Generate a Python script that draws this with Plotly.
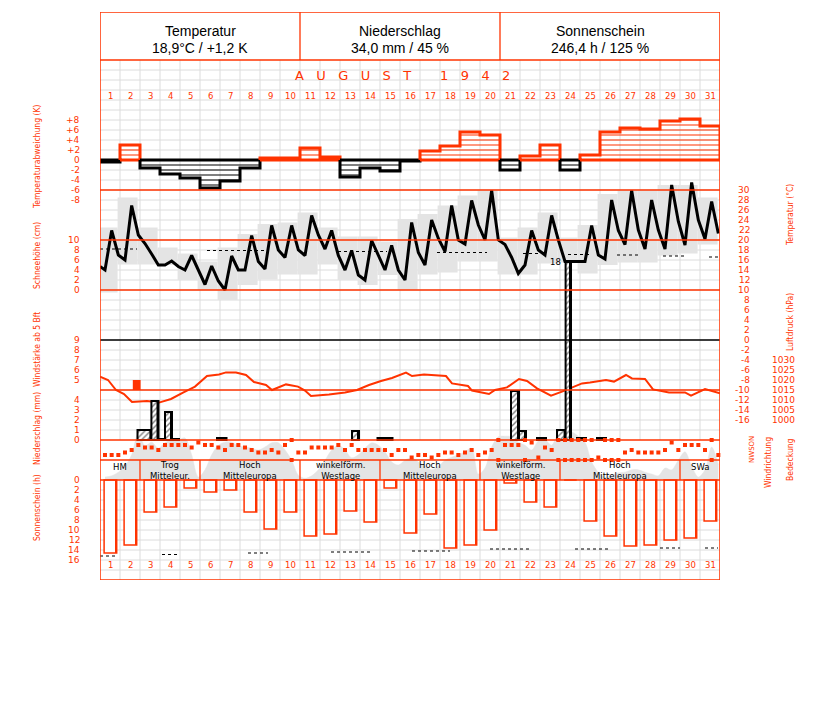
import plotly.graph_objects as go

# ======================= DATA =======================
days = list(range(1, 32))

header_titles = ["Temperatur", "Niederschlag", "Sonnenschein"]
header_values = ["18,9°C / +1,2 K", "34,0 mm / 45 %", "246,4 h / 125 %"]
month_title = "AUGUST 1942"

# daily temperature deviation (K)
temp_dev = [-0.4, 3.0, -1.6, -2.8, -3.6, -5.6, -4.2, -1.6, 0.4, 0.4,
            2.4, 0.6, -3.4, -1.6, -2.2, -0.2, 1.8, 2.8, 5.6, 5.0,
            -2.0, 0.8, 3.0, -2.0, 1.0, 5.6, 6.4, 6.2, 7.8, 8.2, 6.8]

# temperature at three observation terms (°C)
temp_start = 14.7
temp_morning = [14.0, 16.0, 19.3, 15.0, 14.0, 11.1, 10.0, 14.0, 14.2, 16.5, 16.9, 18.2, 14.0, 12.0, 14.0, 12.0,
                15.0, 17.7, 19.2, 20.0, 19.1, 15.0, 17.0, 15.7, 15.7, 16.2, 19.1, 18.2, 18.2, 19.0, 20.2]
temp_noon = [21.9, 26.9, 17.2, 15.8, 16.9, 14.8, 16.8, 20.9, 22.9, 22.9, 24.9, 21.9, 17.9, 19.9, 18.9, 23.5,
             24.0, 26.9, 27.9, 29.9, 16.5, 21.9, 24.9, 15.7, 22.9, 28.0, 29.9, 28.0, 31.0, 31.5, 27.7]
temp_evening = [17.0, 21.0, 15.0, 14.7, 14.0, 11.8, 14.0, 15.7, 18.0, 18.0, 21.0, 16.9, 13.0, 16.9, 14.0, 17.5,
                20.3, 20.0, 23.0, 20.0, 13.3, 18.0, 20.0, 15.7, 17.0, 21.9, 22.0, 22.0, 23.7, 24.0, 21.3]
# daily maximum / minimum (grey boxes)
temp_max = [22.5, 28.5, 22.5, 18.5, 17.3, 15.7, 18.5, 21.2, 23.2, 23.5, 25.5, 22.5, 20.7, 20.7, 19.7, 24.2,
            25.2, 26.9, 28.9, 29.9, 20.5, 22.5, 25.5, 20.5, 23.0, 29.2, 29.9, 29.9, 31.0, 31.0, 28.5]
temp_min = [9.5, 15.1, 15.1, 15.0, 12.0, 10.0, 8.0, 11.0, 12.1, 13.1, 13.1, 15.1, 12.0, 11.0, 13.0, 10.0,
            13.1, 13.5, 15.7, 15.7, 13.1, 13.1, 15.3, 15.5, 13.3, 15.0, 15.5, 15.5, 16.9, 17.3, 19.1]
# normal mean temperature (dotted segments): start day, end day, °C
temp_normal_start = [0.5, 5.85, 12.4, 17.35, 21.65, 23.9, 26.35, 28.65, 30.95]
temp_normal_end = [2.35, 8.85, 14.85, 19.85, 22.85, 25.1, 27.4, 29.8, 31.5]
temp_normal_value = [18.2, 17.9, 17.7, 17.5, 17.3, 17.1, 17.0, 16.8, 16.6]

# wind force >= 5 Bft
wind_start = [2.14]
wind_end = [2.53]
wind_bft = [5]

# air pressure (hPa) by time (days)
pressure_time = [0.5, 0.9, 1.3, 1.7, 2.1, 2.85, 3.45, 4.05, 4.65, 5.25, 5.85, 6.45, 6.8, 7.3, 7.8, 8.2, 8.8,
                 9.1, 9.8, 10.4, 10.75, 11.05, 11.95, 12.75, 13.35, 13.95, 14.55, 15.1, 15.8, 16.1, 16.7,
                 17.8, 18.1, 18.9, 19.1, 19.95, 20.25, 20.85, 21.45, 21.85, 22.35, 23.05, 23.6, 24.0, 24.6,
                 25.0, 25.8, 26.2, 26.8, 27.1, 27.75, 28.15, 28.95, 29.75, 30.05, 30.75, 31.5]
pressure_hpa = [1021.7, 1020, 1015, 1013, 1009, 1009.5, 1008.7, 1010.5, 1013.7, 1016.7, 1022, 1022.8, 1023.8,
                1023.7, 1022.5, 1019, 1017.5, 1015, 1017.8, 1016.7, 1014.7, 1012, 1012.8, 1013.8, 1015,
                1017.5, 1019.5, 1021, 1023.7, 1022, 1022.7, 1022, 1018.3, 1017, 1014.7, 1013, 1015, 1016.3,
                1020.5, 1019.5, 1015.8, 1012.2, 1014.2, 1015.8, 1018.3, 1018.7, 1020, 1019.2, 1022.5,
                1020.8, 1020.5, 1015.3, 1013.7, 1013.8, 1012.2, 1015.5, 1013.3]

# precipitation periods (days) and amounts (mm)
precip_start = [2.375, 3.07, 3.425, 3.75, 4.1, 6.35, 13.1, 14.375, 21.05, 21.45, 22.35, 23.35, 23.78, 24.35, 25.35]
precip_end = [3.07, 3.425, 3.75, 4.1, 4.45, 6.825, 13.45, 15.125, 21.45, 21.8, 22.8, 23.78, 24.05, 24.8, 25.8]
precip_mm = [1.0, 3.9, 0.1, 2.8, 0.1, 0.2, 0.9, 0.2, 4.9, 0.9, 0.2, 1.0, 17.8, 0.2, 0.2]

# wind direction at three terms (German compass points)
wind_dir = ["W", "W", "W", "SW", "S", "O", "SO", "SO", "S", "O", "O", "O", "O", "SO", "NO", "O",
            "O", "SO", "S", "O", "O", "SO", "S", "SW", "SW", "S", "SW", "O", "N", "SW", "SW", "SO",
            "SO", "SO", "SO", "O", "S", "O", "S", "S", "S", "S", "S", "W", "S", "S", "NW", "W",
            "W", "NW", "W", "SW", "SW", "W", "SW", "S", "W", "SW", "S", "N", "O", "O", "O", "N",
            "NO", "NW", "SO", "S", "N", "N", "N", "N", "N", "N", "NW", "N", "N", "N", "SW", "S",
            "SW", "SW", "SW", "SW", "S", "NO", "S", "O", "O", "O", "S", "N", "W"]

# cloud cover (eighths) at three terms
cloud_cover = [0.5, 0.7, 1.3, 2.3, 4.2, 7.8, 5.7, 6.3, 5.3, 6.2, 6.7, 6.7, 7.0, 4.2, 0.5, 1.7, 4.2, 5.8,
               6.3, 6.3, 5.7, 5.5, 5.3, 5.0, 5.5, 6.2, 6.2, 5.0, 3.3, 0.8, 0.3, 0.7, 1.7, 3.3, 5.0, 5.8,
               5.0, 3.7, 4.2, 5.3, 6.2, 5.8, 4.7, 3.0, 2.5, 3.3, 3.7, 3.0, 2.3, 1.7, 2.3, 3.3, 3.8, 4.2,
               4.7, 5.3, 1.0, 2.0, 5.5, 7.2, 7.3, 7.2, 6.3, 5.8, 5.0, 6.5, 6.7, 5.8, 7.7, 8.0, 8.0, 7.3,
               6.3, 3.0, 1.3, 0.5, 0.8, 1.2, 1.3, 1.7, 1.7, 1.3, 1.0, 0.7, 2.0, 1.7, 3.3, 4.7, 2.3, 0.5,
               1.7, 5.5, 2.5]

# large-scale weather types
weather_names = ["HM", "Trog<br>Mitteleur.", "Hoch<br>Mitteleuropa", "winkelförm.<br>Westlage",
                 "Hoch<br>Mitteleuropa", "winkelförm.<br>Westlage", "Hoch<br>Mitteleuropa", "SWa"]
weather_first_day = [1, 3, 6, 11, 15, 20, 24, 30]
weather_last_day = [2, 5, 10, 14, 19, 23, 29, 31]

# sunshine duration (h)
sunshine_h = [14.6, 13.0, 6.4, 5.4, 1.6, 2.4, 2.0, 6.4, 9.8, 6.4, 11.2, 10.8, 6.2, 8.4, 1.6, 10.6,
              6.8, 13.6, 13.0, 10.0, 0.6, 4.4, 5.4, 0.0, 8.2, 11.2, 13.2, 13.0, 12.0, 11.6, 8.2]
# possible sunshine (dotted segments)
sun_possible_start = [0.5, 3.6, 7.9, 12.05, 16.1, 20.0, 24.25, 28.5, 30.75]
sun_possible_end = [1.4, 4.5, 8.9, 14.0, 18.0, 22.0, 26.0, 29.5, 31.4]
sun_possible_h = [15.2, 14.9, 14.6, 14.4, 14.2, 13.8, 13.8, 13.6, 13.6]

# tick labels
dev_ticks = [8, 6, 4, 2, 0, -2, -4, -6, -8]
snow_ticks = [10, 8, 6, 4, 2, 0]
wind_ticks = [9, 8, 7, 6, 5]
precip_ticks = [4, 3, 2, 1, 0]
sun_ticks = [0, 2, 4, 6, 8, 10, 12, 14, 16]
temp_ticks = list(range(30, -17, -2))
pressure_ticks = [1030, 1025, 1020, 1015, 1010, 1005, 1000]

# ======================= GEOMETRY / STYLE =======================
RED = "#ff3300"
GRID = "#dcdcdc"
GREY = "#e4e4e4"
FIG_W, FIG_H = 827, 702
PL, PR, PT, PB = 100, 720, 12, 580
FONT = "DejaVu Sans, Verdana, sans-serif"
NARROW = "Liberation Sans Narrow, DejaVu Sans Condensed, Arial Narrow, sans-serif"
TICK = 9
PRECIP_TOP = 5  # mm at the top edge of the precipitation band


def axis_range(v0, y0, ppu, down=False):
    if down:
        return [v0 + (PB - y0) / ppu, v0 - (y0 - PT) / ppu]
    return [v0 - (PB - y0) / ppu, v0 + (y0 - PT) / ppu]


def paper_x(px):
    return (px - PL) / (PR - PL)


def day_x(px):
    return (px - PL) / 20 + 0.5


compass = {"N": 0, "NO": 45, "O": 90, "SO": 135, "S": 180, "SW": 225, "W": 270, "NW": 315}
obs_offsets = [-0.25, 0.083, 0.417]
obs_x = [d + o for d in days for o in obs_offsets]

fig = go.Figure()

# ---- cloud cover (y2)
fig.add_trace(go.Scatter(x=obs_x, y=cloud_cover, yaxis="y2", mode="lines",
                         line=dict(color=GREY, width=0.5, shape="spline", smoothing=0.9),
                         fill="tozeroy", fillcolor=GREY, hoverinfo="skip"))

# ---- temperature (y3)
fig.add_trace(go.Bar(x=[d - 0.12 for d in days], y=[a - b for a, b in zip(temp_max, temp_min)],
                     base=temp_min, width=1.0, yaxis="y3",
                     marker=dict(color=GREY, line=dict(width=0)), hoverinfo="skip"))
nx, ny = [], []
for s, e, v in zip(temp_normal_start, temp_normal_end, temp_normal_value):
    nx += [s, e, None]
    ny += [v, v, None]
fig.add_trace(go.Scatter(x=nx, y=ny, yaxis="y3", mode="lines",
                         line=dict(color="black", width=1.2, dash="dot"), hoverinfo="skip"))
temps = []
for a, b, c in zip(temp_morning, temp_noon, temp_evening):
    temps += [a, b, c]
fig.add_trace(go.Scatter(x=[0.5] + obs_x, y=[temp_start] + temps, yaxis="y3", mode="lines",
                         line=dict(color="black", width=3), hoverinfo="skip"))

# ---- temperature deviation (y4)
for sign, col in ((1, RED), (-1, "black")):
    hx, hy = [], []
    for d, v in zip(days, temp_dev):
        if v * sign > 0:
            L = 1
            while L < abs(v) - 0.15:
                hx += [d - 0.5, d + 0.5, None]
                hy += [sign * L, sign * L, None]
                L += 1
    fig.add_trace(go.Scatter(x=hx, y=hy, yaxis="y4", mode="lines",
                             line=dict(color=col, width=1), hoverinfo="skip"))
runs = []
for d, v in zip(days, temp_dev):
    s = 1 if v > 0 else -1
    if runs and runs[-1][0] == s:
        runs[-1][1].append((d, v))
    else:
        runs.append((s, [(d, v)]))
for s, items in runs:
    ox = [items[0][0] - 0.5]
    oy = [0]
    for d, v in items:
        ox += [d - 0.5, d + 0.5]
        oy += [v, v]
    ox += [items[-1][0] + 0.5, items[0][0] - 0.5]
    oy += [0, 0]
    fig.add_trace(go.Scatter(x=ox, y=oy, yaxis="y4", mode="lines",
                             line=dict(color=RED if s > 0 else "black", width=3), hoverinfo="skip"))

# ---- wind force (y5)
fig.add_trace(go.Bar(x=[(a + b) / 2 for a, b in zip(wind_start, wind_end)],
                     width=[b - a for a, b in zip(wind_start, wind_end)],
                     y=[w - 4 for w in wind_bft], base=[4] * len(wind_bft), yaxis="y5",
                     marker=dict(color=RED, line=dict(width=0)), hoverinfo="skip"))

# ---- pressure (y6)
fig.add_trace(go.Scatter(x=pressure_time, y=pressure_hpa, yaxis="y6", mode="lines",
                         line=dict(color=RED, width=2), hoverinfo="skip"))

# ---- precipitation (y7)
fig.add_trace(go.Bar(x=[(a + b) / 2 for a, b in zip(precip_start, precip_end)],
                     width=[b - a for a, b in zip(precip_start, precip_end)],
                     y=precip_mm, yaxis="y7",
                     marker=dict(color="white",
                                 pattern=dict(shape="/", fgcolor="black", bgcolor="white", size=4, solidity=0.35),
                                 line=dict(color="black", width=2)), hoverinfo="skip"))
fig.add_trace(go.Bar(x=[b - 0.05 for b in precip_end], width=[0.1] * len(precip_end),
                     y=precip_mm, yaxis="y7",
                     marker=dict(color="black", line=dict(width=0)), hoverinfo="skip"))

# ---- wind direction (y8)
wd = [compass[c] for c in wind_dir]
wx = obs_x + [x for x, c in zip(obs_x, wind_dir) if c == "N"]
wy = wd + [360 for c in wind_dir if c == "N"]
fig.add_trace(go.Scatter(x=wx, y=wy, yaxis="y8", mode="markers", cliponaxis=False,
                         marker=dict(symbol="square", size=4, color=RED, line=dict(width=0)),
                         hoverinfo="skip"))

# ---- sunshine (y9)
fig.add_trace(go.Bar(x=[d + 0.02 for d in days], y=sunshine_h, width=0.63, yaxis="y9",
                     marker=dict(color="white", line=dict(color=RED, width=1.5)), hoverinfo="skip"))
fig.add_trace(go.Bar(x=[d + 0.3 for d in days], y=sunshine_h, width=0.1, yaxis="y9",
                     marker=dict(color=RED, line=dict(width=0)), hoverinfo="skip"))
sx, sy = [], []
for s, e, v in zip(sun_possible_start, sun_possible_end, sun_possible_h):
    sx += [s, e, None]
    sy += [v, v, None]
fig.add_trace(go.Scatter(x=sx, y=sy, yaxis="y9", mode="lines",
                         line=dict(color="black", width=1.2, dash="dot"), hoverinfo="skip"))

# ======================= LAYOUT =======================
hidden = dict(visible=False, fixedrange=True, showgrid=False, zeroline=False)
axes = {
    "yaxis2": axis_range(0, 480, 6),            # cloud cover eighths
    "yaxis3": axis_range(0, 340, 5),            # temperature
    "yaxis4": axis_range(0, 160, 5),            # deviation
    "yaxis5": axis_range(5, 380, 10),           # wind force
    "yaxis6": axis_range(1015, 390, 2),         # pressure
    "yaxis7": axis_range(0, 440, 10),           # precipitation
    "yaxis8": axis_range(0, 440, 20 / 360, True),  # wind direction
    "yaxis9": axis_range(0, 480, 5, True),      # sunshine
}
layout_axes = {name: dict(hidden, overlaying="y", anchor="x", range=r) for name, r in axes.items()}

shapes = []
for d in range(1, 31):
    for y0, y1 in ((60, 440), (480, 580)):
        shapes.append(dict(type="line", xref="x", yref="y", x0=d + 0.5, x1=d + 0.5, y0=y0, y1=y1,
                           line=dict(color=GRID, width=1), layer="below"))
for yy in list(range(70, 440, 10)) + list(range(490, 580, 10)):
    shapes.append(dict(type="line", xref="x", yref="y", x0=0.5, x1=31.5, y0=yy, y1=yy,
                       line=dict(color=GRID, width=1), layer="below"))
shapes.append(dict(type="line", xref="x", yref="y4", x0=0.5, x1=31.5, y0=0, y1=0,
                   line=dict(color="black", width=1), layer="below"))
for yy in (60, 190, 240, 290, 390, 440, 460, 480):
    shapes.append(dict(type="line", xref="x", yref="y", x0=0.5, x1=31.5, y0=yy, y1=yy,
                       line=dict(color=RED, width=1.3), layer="above"))
shapes.append(dict(type="line", xref="x", yref="y", x0=0.5, x1=31.5, y0=340, y1=340,
                   line=dict(color="black", width=1.3), layer="above"))
for px in (300, 500):
    shapes.append(dict(type="line", xref="x", yref="y", x0=day_x(px), x1=day_x(px), y0=12, y1=60,
                       line=dict(color=RED, width=1.3), layer="above"))
for last in weather_last_day[:-1]:
    shapes.append(dict(type="line", xref="x", yref="y", x0=last + 0.5, x1=last + 0.5, y0=460, y1=480,
                       line=dict(color=RED, width=1.3), layer="above"))
shapes.append(dict(type="rect", xref="x", yref="y", x0=0.5, x1=31.5, y0=12, y1=580,
                   line=dict(color=RED, width=1.5), layer="above"))

ann = []


def text(x, y, s, xref="x", yref="y", size=TICK, color=RED, xanchor="center", yanchor="middle",
         angle=0, family=FONT, **kw):
    ann.append(dict(x=x, y=y, xref=xref, yref=yref, text=s, showarrow=False, xanchor=xanchor,
                    yanchor=yanchor, textangle=angle, font=dict(size=size, color=color, family=family), **kw))


for i, (t, v) in enumerate(zip(header_titles, header_values)):
    cx = 5.5 + 10 * i
    text(cx, 31, t, size=14, color="black", family="Liberation Sans, Arial, sans-serif")
    text(cx, 48, v, size=14, color="black", family="Liberation Sans, Arial, sans-serif")
text(day_x(402), 75, "\u00a0\u00a0\u00a0".join(list(month_title.replace(" ", "\u00a0"))),
     size=13, color=RED)
for d in days:
    text(d, 96, str(d), size=8.5)
    text(d, 565, str(d), size=8.5)

for name, a, b in zip(weather_names, weather_first_day, weather_last_day):
    if "<br>" in name:
        text((a + b) / 2, 470.5, name, size=8.5, color="black")
    else:
        text((a + b) / 2, 466.5, name, size=8.5, color="black")

for v in dev_ticks:
    lab = ("+" + str(v)) if v > 0 else str(v)
    text(paper_x(82), v, lab, xref="paper", yref="y4", xanchor="right")
for v in snow_ticks:
    text(paper_x(82), 290 - 5 * v, str(v), xref="paper", yref="y", xanchor="right")
for v in wind_ticks:
    text(paper_x(82), v, str(v), xref="paper", yref="y5", xanchor="right")
for v in precip_ticks:
    text(paper_x(82), v, str(v), xref="paper", yref="y7", xanchor="right")
for v in sun_ticks:
    text(paper_x(82), v, str(v), xref="paper", yref="y9", xanchor="right")
for v in temp_ticks:
    text(paper_x(752), v, str(v), xref="paper", yref="y3", xanchor="right")
for v in pressure_ticks:
    text(paper_x(797), v, str(v), xref="paper", yref="y6", xanchor="right")
text(paper_x(752), 180, "NWSON", xref="paper", yref="y8", size=7, angle=-90)

for s, yy in (("Temperaturabweichung (K)", 157), ("Schneehöhe (cm)", 256), ("Windstärke ab 5 Bft", 350),
              ("Niederschlag (mm)", 429), ("Sonnenschein (h)", 508)):
    text(paper_x(37), yy, s, xref="paper", size=8.5, angle=-90, family=NARROW)
for s, px, yy in (("Temperatur (°C)", 790, 215), ("Luftdruck (hPa)", 790, 322),
                  ("Windrichtung", 768, 463), ("Bedeckung", 790, 459)):
    text(paper_x(px), yy, s, xref="paper", size=8.5, angle=-90, family=NARROW)

for s, v in zip(precip_start, precip_mm):
    if v > PRECIP_TOP:
        text(s, v, f"{round(v):d}", yref="y7", size=8.5, color="black", xanchor="right", xshift=-3)

fig.update_layout(
    width=FIG_W, height=FIG_H, autosize=False,
    margin=dict(l=PL, r=FIG_W - PR, t=PT, b=FIG_H - PB, pad=0),
    paper_bgcolor="white", plot_bgcolor="white",
    showlegend=False, barmode="overlay",
    xaxis=dict(hidden, range=[0.5, 31.5]),
    yaxis=dict(hidden, range=[PB, PT]),
    shapes=shapes, annotations=ann,
    **layout_axes,
)

fig.write_html("out.html", config={"displayModeBar": False},
               post_script="document.body.style.margin='0px';")
